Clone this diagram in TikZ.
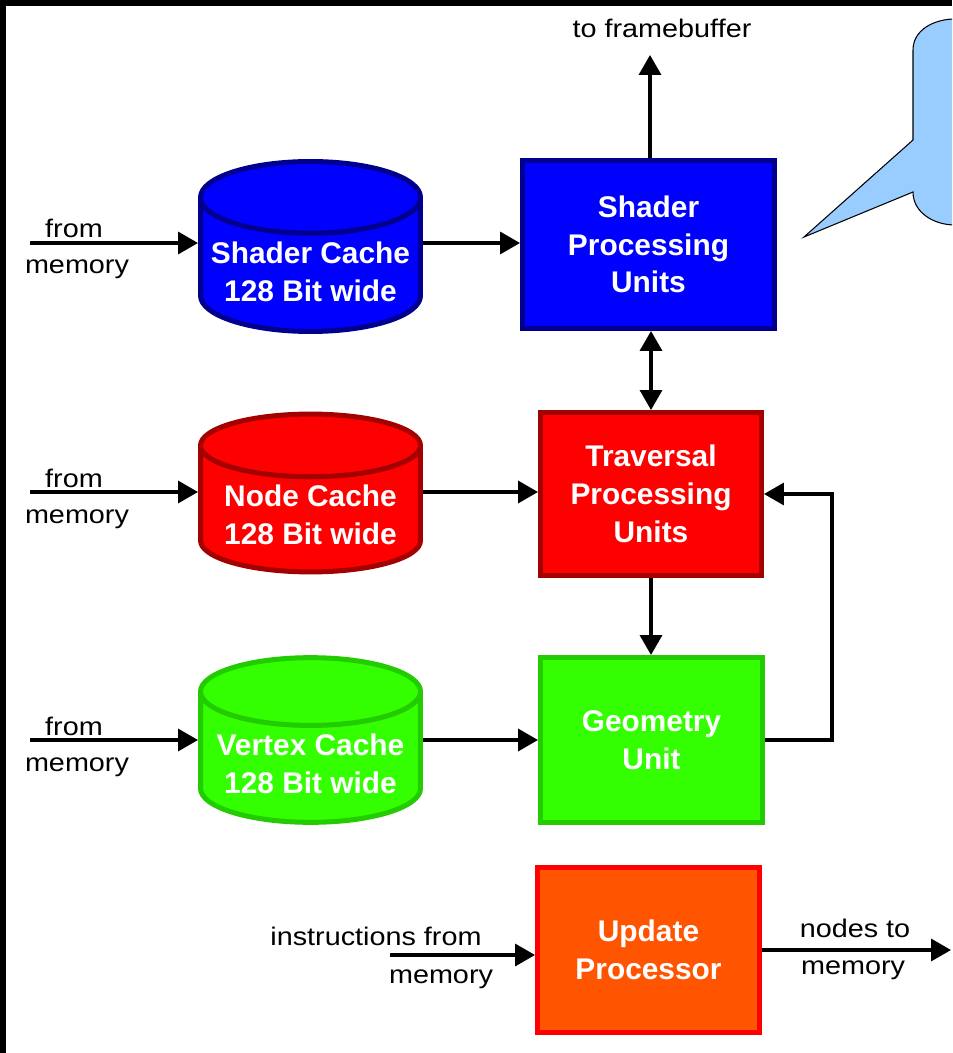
\documentclass[tikz,border=0pt]{standalone}
\usepackage{fontspec}
\setmainfont{Liberation Sans}
\newfontfamily\lblfont{Liberation Sans}[FakeStretch=1.13]
\usepackage{tikz}
\usetikzlibrary{shapes.geometric,positioning,calc,arrows.meta}
\definecolor{spublue}{HTML}{0000FF}
\definecolor{spuedge}{HTML}{00008C}
\definecolor{trared}{HTML}{FF0000}
\definecolor{traedge}{HTML}{A30000}
\definecolor{geogreen}{HTML}{33FF00}
\definecolor{geoedge}{HTML}{22CC00}
\definecolor{updorange}{HTML}{FF5500}
\definecolor{calloutbg}{HTML}{99CCFF}

\begin{document}
\begin{tikzpicture}[x=0.02cm, y=-0.02cm,
  >={Triangle[length=0.4cm, width=0.44cm]},
  unit/.style={rectangle, draw, line width=0.1cm, minimum width=4.44cm, minimum height=3.3cm,
    text=white, align=center, font=\fontsize{17}{21.5}\selectfont\bfseries},
  cache/.style={cylinder, shape border rotate=90, aspect=0.34, draw, line width=0.1cm,
    minimum width=4.4cm, minimum height=2.86cm, anchor=shape center,
    text=white, align=center, font=\fontsize{17}{21.5}\selectfont\bfseries},
  wire/.style={line width=0.07cm, ->},
  lbl/.style={anchor=base, font=\lblfont\fontsize{14.5}{17}\selectfont}]
  % page 952 x 1053 px, 1 px = 0.02cm, y grows downwards
  \useasboundingbox (0,0) rectangle (952,1053);
  \clip (0,0) rectangle (952,1053);
  \fill[white] (0,0) rectangle (952,1053);
  \fill[black] (0,0) rectangle (952,6);
  \fill[black] (0,0) rectangle (6,1053);

  % callout, cut off at the right edge
  \draw[fill=calloutbg, line width=0.6pt] (913,140) -- (913,50) to[out=90,in=180] (955,19)
    -- (1000,19) -- (1000,225) -- (955,225) to[out=180,in=270] (913,192) -- (804,237) -- cycle;

  % caches (left column)
  \node[cache, fill=spublue, draw=spuedge] (cshd) at (310.5,246.5) {Shader Cache\\128 Bit wide};
  \node[cache, fill=trared, draw=traedge] (cnod) at (310.5,493) {Node Cache\\128 Bit wide};
  \node[cache, fill=geogreen, draw=geoedge] (cvtx) at (310.5,740) {Vertex Cache\\128 Bit wide};

  % processing units (right column)
  \node[unit, fill=spublue, draw=spuedge, minimum width=5.04cm, minimum height=3.36cm] (spu) at (648.5,244.5) {Shader\\Processing\\Units};
  \node[unit, fill=trared, draw=traedge, minimum width=4.42cm, minimum height=3.26cm] (tra) at (651,494) {Traversal\\Processing\\Units};
  \node[unit, fill=geogreen, draw=geoedge] (geo) at (651.5,740) {Geometry\\Unit};
  \node[unit, fill=updorange, draw=trared] (upd) at (648.5,950) {Update\\Processor};

  % inputs from memory
  \foreach \row/\ypos/\cyl in {s/243/cshd, n/492/cnod, v/740/cvtx} {
    \coordinate (in\row) at (30,\ypos);
    \node[lbl] (from\row) at (74,\ypos-5) {from};
    \node[lbl] (mem\row) at (77,\ypos+31) {memory};
    \draw[wire] (in\row) -- (in\row -| \cyl.west);
  }

  % to framebuffer
  \node[lbl] (fb) at (662,38) {to framebuffer};
  \coordinate (fbtip) at (650,55);
  \draw[wire] (spu.north -| fbtip) -- (fbtip);

  % caches -> units
  \draw[wire] (cshd.east |- ins) -- (spu.west |- ins);
  \draw[wire] (cnod.east |- inn) -- (tra.west |- inn);
  \draw[wire] (cvtx.east |- inv) -- (geo.west |- inv);

  % between the units
  \draw[wire, <->] (tra.north |- spu.south) -- (tra.north);
  \draw[wire] (tra.south) -- (tra.south |- geo.north);
  \draw[wire] (geo.east) -- ++(67,0) |- (tra.east);

  % update processor
  \node[lbl] (instr) at (376,945) {instructions from};
  \node[lbl] (memu) at (441,983) {memory};
  \coordinate (inu) at (390,955);
  \draw[wire] (inu) -- (inu -| upd.west);
  \node[lbl] (nodesto) at (855,937) {nodes to};
  \node[lbl] (memo) at (853,974) {memory};
  \coordinate (outu) at (951,950);
  \draw[wire] (upd.east) -- (outu);
\end{tikzpicture}
\end{document}
